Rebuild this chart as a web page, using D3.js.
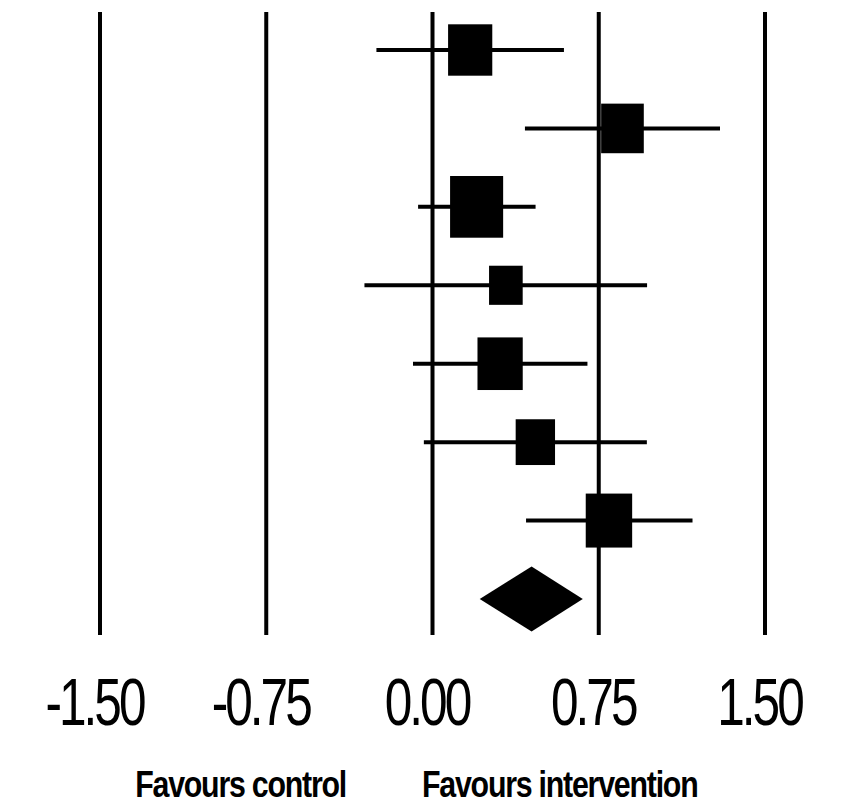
<!DOCTYPE html>
<html>
<head>
<meta charset="utf-8">
<script src="https://cdn.jsdelivr.net/npm/d3@7"></script>
<style>
  body { margin: 0; background: #fff; }
</style>
</head>
<body>
<script>
// study estimates with 95% CI, weights in %
const estimates = [0.17, 0.857, 0.199, 0.331, 0.305, 0.464, 0.796];
const lower = [-0.253, 0.417, -0.065, -0.307, -0.088, -0.039, 0.422];
const upper = [0.593, 1.297, 0.465, 0.968, 0.699, 0.967, 1.173];
const weights = [14.5, 13.5, 20.9, 8.4, 15.2, 11.5, 16.0];
// pooled estimate
const pooledEst = 0.447;
const pooledLow = 0.213;
const pooledHigh = 0.678;
const tickValues = [-1.5, -0.75, 0, 0.75, 1.5];
const leftLabel = "Favours control";
const rightLabel = "Favours intervention";

const width = 841, height = 805;

const svg = d3.select("body")
  .append("svg")
  .attr("width", width)
  .attr("height", height);

const x = d3.scaleLinear()
  .domain([-1.5, 1.5])
  .range([100, 765]);

const rows = d3.range(estimates.length + 1);
const y = d3.scalePoint()
  .domain(rows)
  .range([50, 599]);

const boxH = d3.scaleSqrt()
  .domain([0, d3.max(weights)])
  .range([0, 61.7]);

const studies = estimates.map((d, i) => ({
  est: d, lo: lower[i], hi: upper[i], w: weights[i], row: i
}));

// vertical reference lines
svg.append("g")
  .selectAll("line")
  .data(tickValues)
  .enter()
  .append("line")
  .attr("x1", (d) => x(d))
  .attr("x2", (d) => x(d))
  .attr("y1", 12)
  .attr("y2", 635)
  .attr("stroke", "#000")
  .attr("stroke-width", 4);

// confidence intervals
svg.append("g")
  .selectAll("line")
  .data(studies)
  .enter()
  .append("line")
  .attr("x1", (d) => x(d.lo))
  .attr("x2", (d) => x(d.hi))
  .attr("y1", (d) => y(d.row))
  .attr("y2", (d) => y(d.row))
  .attr("stroke", "#000")
  .attr("stroke-width", 4);

// weight boxes
svg.append("g")
  .selectAll("rect")
  .data(studies)
  .enter()
  .append("rect")
  .attr("x", (d) => x(d.est) - boxH(d.w) * 0.86 / 2)
  .attr("y", (d) => y(d.row) - boxH(d.w) / 2)
  .attr("width", (d) => boxH(d.w) * 0.86)
  .attr("height", (d) => boxH(d.w))
  .attr("fill", "#000");

// pooled diamond
const py = y(estimates.length);
svg.append("path")
  .attr("d", d3.line()([
    [x(pooledLow), py],
    [x(pooledEst), py - 32.5],
    [x(pooledHigh), py],
    [x(pooledEst), py + 32.5]
  ]) + "Z")
  .attr("fill", "#000");

// tick labels (plain hyphen for negatives, like the original)
const fmt = d3.format(".2f");
const axis = svg.append("g")
  .attr("transform", "translate(0,725)")
  .call(d3.axisBottom(x)
    .tickValues(tickValues)
    .tickSize(0)
    .tickFormat((d) => fmt(d).replace("\u2212", "-")));

axis.select(".domain").remove();
axis.attr("font-family", "'Liberation Sans', Arial, sans-serif")
  .attr("font-size", 67);
axis.selectAll("text")
  .attr("y", 0)
  .attr("dy", null)
  .attr("fill", "#000")
  .attr("letter-spacing", "-4px")
  .attr("transform", "translate(-6,0) scale(0.74,1)");

// side labels
const sideFont = "'Liberation Sans', Arial, sans-serif";
svg.append("text")
  .attr("transform", "translate(346,797) scale(0.82,1)")
  .attr("text-anchor", "end")
  .attr("font-family", sideFont)
  .attr("font-weight", "bold")
  .attr("font-size", 37)
  .attr("letter-spacing", "-1.5px")
  .text(leftLabel);

svg.append("text")
  .attr("transform", "translate(422,797) scale(0.82,1)")
  .attr("text-anchor", "start")
  .attr("font-family", sideFont)
  .attr("font-weight", "bold")
  .attr("font-size", 37)
  .attr("letter-spacing", "-1.5px")
  .text(rightLabel);
</script>
</body>
</html>
